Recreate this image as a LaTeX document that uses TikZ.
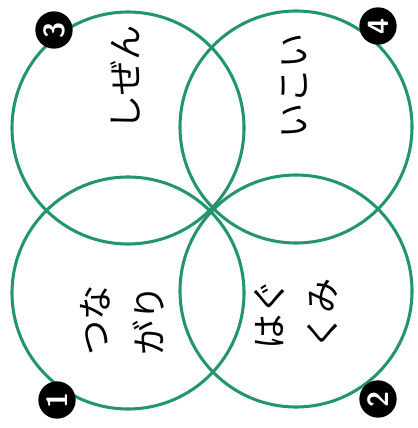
\documentclass[tikz,border=0pt]{standalone}
\usepackage{fontspec}
\newfontfamily\jpfont{Noto Sans CJK JP}
\definecolor{ringgreen}{RGB}{35,150,105}
\begin{document}
\begin{tikzpicture}[
            x=0.03cm,
            y=-0.03cm,
            ring/.style={draw=ringgreen, line width=2.6pt},
            badge/.style={circle, fill=black, text=white, minimum size=1.12cm, inner sep=0pt, font=\sffamily\bfseries\Huge, rotate=90},
            word/.style={font=\jpfont\fontsize{30}{46}\selectfont, rotate=90, align=center, inner sep=0pt}
        ]
        \useasboundingbox (0,0) rectangle (417,428);
        \coordinate (TL) at (128,128);
        \coordinate (TR) at (296,127);
        \coordinate (BL) at (128,293);
        \coordinate (BR) at (296,291);

        \draw[ring] (TL) circle[radius=3.48cm];
        \draw[ring] (TR) circle[radius=3.48cm];
        \draw[ring] (BL) circle[radius=3.48cm];
        \draw[ring] (BR) circle[radius=3.48cm];

        \node[word] (shizen) at (125,78) {しぜん};
        \node[word] (ikoi) at (295,86) {いこい};
        \node[word] (tsunagari) at (122,320) {つな\\がり};
        \node[word] (hagukumi) at (296,314) {はぐ\\くみ};

        \node[badge] (n1) at (57,400) {1};
        \node[badge] (n2) at (378,399) {2};
        \node[badge] (n3) at (54,30) {3};
        \node[badge] (n4) at (378,26) {4};
    \end{tikzpicture}
\end{document}
